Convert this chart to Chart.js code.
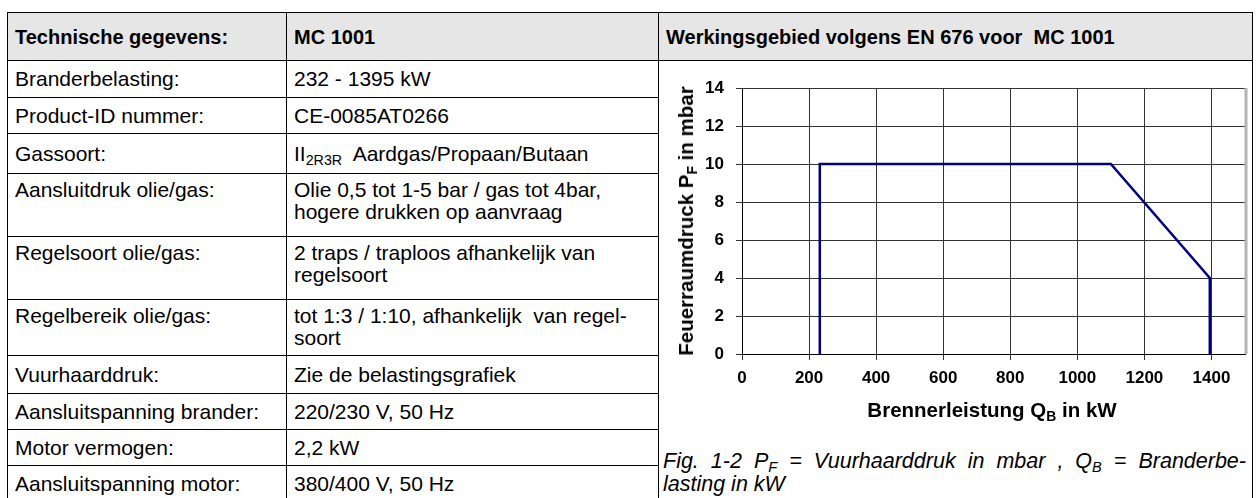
<!DOCTYPE html>
<html>
<head>
<meta charset="utf-8">
<script src="https://cdn.jsdelivr.net/npm/chart.js@4/dist/chart.umd.min.js"></script>
<style>
    body {
        margin: 0;
        background: #fff;
        font-family: "Liberation Sans", Arial, sans-serif;
        width: 1259px;
        height: 498px;
        overflow: hidden;
        position: relative;
    }
    table.spec {
        position: absolute;
        left: 7px;
        top: 12px;
        border-collapse: collapse;
        table-layout: fixed;
        font-size: 21px;
        color: #000;
    }
    table.spec td {
        border: 1px solid #000;
        padding: 0 0 0 7px;
        vertical-align: middle;
        line-height: 22px;
        white-space: nowrap;
    }
    table.spec tr.two td {
        vertical-align: top;
        padding-top: 5px;
    }
    table.spec tr.head td {
        background: #e6e6e6;
        font-weight: bold;
        font-size: 20px;
    }
    table.spec td.chartcell {
        vertical-align: top;
        border-bottom: none;
    }
    sub {
        font-size: 0.68em;
        vertical-align: -0.3em;
        line-height: 0;
    }
    #wrap {
        position: absolute;
        left: 660px;
        top: 62px;
        width: 590px;
        height: 340px;
    }
    .axis-title {
        position: absolute;
        font-weight: bold;
        font-size: 20.5px;
        white-space: nowrap;
        color: #000;
    }
    #ytitle {
        left: 686px;
        top: 221px;
        transform: translate(-50%, -50%) rotate(-90deg);
    }
    #xtitle {
        left: 992px;
        top: 410px;
        transform: translate(-50%, -50%);
    }
    #caption {
        position: absolute;
        left: 663px;
        top: 450px;
        width: 583px;
        font-style: italic;
        font-size: 21.5px;
        line-height: 23px;
        white-space: nowrap;
    }
    #caption .l1 {
        text-align: justify;
        text-align-last: justify;
    }
</style>
</head>
<body>
<table class="spec">
    <colgroup>
        <col style="width:279px">
        <col style="width:372px">
        <col style="width:594px">
    </colgroup>
    <tr class="head" style="height:48px">
        <td>Technische gegevens:</td>
        <td>MC 1001</td>
        <td>Werkingsgebied volgens EN 676 voor&nbsp; MC 1001</td>
    </tr>
    <tr style="height:37px">
        <td>Branderbelasting:</td>
        <td>232 - 1395 kW</td>
        <td class="chartcell" rowspan="10"></td>
    </tr>
    <tr style="height:36px">
        <td>Product-ID nummer:</td>
        <td>CE-0085AT0266</td>
    </tr>
    <tr style="height:40px">
        <td>Gassoort:</td>
        <td>II<sub>2R3R</sub>&nbsp; Aardgas/Propaan/Butaan</td>
    </tr>
    <tr class="two" style="height:63px">
        <td>Aansluitdruk olie/gas:</td>
        <td>Olie 0,5 tot 1-5 bar / gas tot 4bar,<br>hogere drukken op aanvraag</td>
    </tr>
    <tr class="two" style="height:63px">
        <td>Regelsoort olie/gas:</td>
        <td>2 traps / traploos afhankelijk van<br>regelsoort</td>
    </tr>
    <tr class="two" style="height:56px">
        <td>Regelbereik olie/gas:</td>
        <td>tot 1:3 / 1:10, afhankelijk&nbsp; van regel-<br>soort</td>
    </tr>
    <tr style="height:38px">
        <td>Vuurhaarddruk:</td>
        <td>Zie de belastingsgrafiek</td>
    </tr>
    <tr style="height:36px">
        <td>Aansluitspanning brander:</td>
        <td>220/230 V, 50 Hz</td>
    </tr>
    <tr style="height:36px">
        <td>Motor vermogen:</td>
        <td>2,2 kW</td>
    </tr>
    <tr style="height:36px">
        <td>Aansluitspanning motor:</td>
        <td>380/400 V, 50 Hz</td>
    </tr>
</table>

<div id="wrap"><canvas id="area-chart" width="590" height="340"></canvas></div>
<div class="axis-title" id="ytitle">Feuerraumdruck P<sub>F</sub> in mbar</div>
<div class="axis-title" id="xtitle">Brennerleistung Q<sub>B</sub> in kW</div>
<div id="caption">
    <div class="l1">Fig. 1-2 P<sub>F</sub> = Vuurhaarddruk in mbar , Q<sub>B</sub> = Branderbe-</div>
    <div>lasting in kW</div>
</div>

<script>
    // operating range boundary
    const brennerleistung = [232, 232, 1100, 1395, 1395]; // Q_B in kW
    const feuerraumdruck = [0, 10, 10, 4, 0];            // P_F in mbar

    // axis ticks as printed (the x axis itself runs on to 1500)
    const xTickValues = [0, 200, 400, 600, 800, 1000, 1200, 1400];
    const yTickValues = [0, 2, 4, 6, 8, 10, 12, 14];

    const tickFont = {family: '"Liberation Sans", Arial, sans-serif', size: 17, weight: 'bold'};

    // grey frame on the right of the plot area, like the excel original
    const plotFrame = {
        id: 'plotFrame',
        afterDraw(chart) {
            const a = chart.chartArea;
            const ctx = chart.ctx;
            ctx.save();
            ctx.strokeStyle = '#b4b4b4';
            ctx.lineWidth = 3;
            ctx.beginPath();
            ctx.moveTo(a.right + 1, a.top);
            ctx.lineTo(a.right + 1, a.bottom);
            ctx.stroke();
            ctx.restore();
        }
    };

    let points = brennerleistung.map((q, i) => ({x: q, y: feuerraumdruck[i]}));

    let chart = new Chart(document.querySelector('#area-chart'), {
        type: 'scatter',
        data: {
            datasets: [{
                label: 'Werkingsgebied',
                data: points,
                showLine: true,
                borderColor: '#000080',
                borderWidth: 2.5,
                pointRadius: 0,
                tension: 0,
                fill: false
            }]
        },
        options: {
            responsive: false,
            animation: false,
            events: [],
            layout: {padding: {top: 26, right: 5, left: 0, bottom: 0}},
            plugins: {
                legend: {display: false},
                tooltip: {enabled: false}
            },
            scales: {
                x: {
                    type: 'linear',
                    min: 0,
                    max: 1500,
                    ticks: {color: '#000', font: tickFont, padding: 8, maxRotation: 0, autoSkip: false,
                        callback: (v) => String(v)},
                    grid: {color: '#333', lineWidth: 1, tickLength: 6},
                    border: {color: '#000', width: 1},
                    afterBuildTicks: (scale) => {
                        scale.ticks = xTickValues.map((v) => ({value: v}));
                    },
                    afterFit: (scale) => {
                        scale.height = 48;
                    }
                },
                y: {
                    type: 'linear',
                    min: 0,
                    max: 14,
                    ticks: {color: '#000', font: tickFont, padding: 12, autoSkip: false,
                        callback: (v) => String(v)},
                    grid: {color: '#333', lineWidth: 1, tickLength: 6},
                    border: {color: '#000', width: 1},
                    afterBuildTicks: (scale) => {
                        scale.ticks = yTickValues.map((v) => ({value: v}));
                    },
                    afterFit: (scale) => {
                        scale.width = 82;
                    }
                }
            }
        },
        plugins: [plotFrame]
    });
</script>
</body>
</html>
